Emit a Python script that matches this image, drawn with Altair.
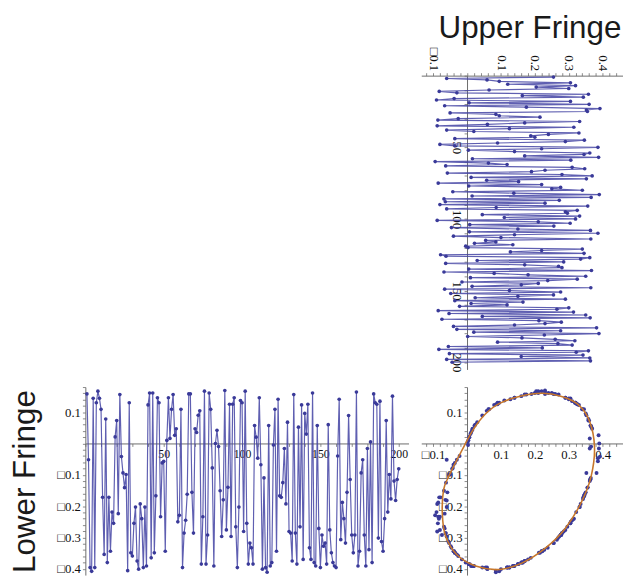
import altair as alt
import pandas as pd

# ---------------- data ----------------
index = list(range(1, 201))

lower = [
    0.158, -0.052, -0.396, -0.408, 0.144, -0.396, 0.130, 0.167, 0.144, 0.109,
    -0.172, -0.354, 0.078, -0.380, -0.172, -0.344, -0.219, -0.255, 0.021, 0.073,
    -0.224, 0.156, -0.042, -0.094, -0.141, -0.099, -0.406, 0.130, -0.349, -0.359,
    -0.255, -0.203, -0.375, -0.401, -0.193, -0.240, -0.396, -0.203, -0.391, 0.123,
    0.161, -0.365, 0.161, -0.349, -0.167, 0.146, 0.130, -0.234, -0.062, -0.057,
    -0.344, 0.010, 0.146, 0.016, 0.109, 0.156, 0.026, 0.047, -0.250, -0.229,
    0.109, -0.396, -0.286, -0.245, -0.162, 0.158, 0.158, -0.156, -0.286,
    0.047, 0.035, 0.090, 0.104, -0.385, -0.234, 0.167, -0.385, -0.292, 0.161,
    0.109, -0.078, -0.391, 0.000, 0.042, -0.010, -0.151, -0.297, -0.180, 0.169,
    -0.276, -0.140, 0.125, -0.297, 0.125, 0.146, -0.266, -0.396, -0.203, 0.137,
    0.130, -0.281, 0.167, -0.255, -0.385, -0.318, -0.333, -0.385, 0.057, 0.020,
    -0.047, 0.146, -0.068, -0.401, -0.110, -0.396, -0.411, 0.057, -0.391, -0.380,
    -0.005, 0.109, -0.344, 0.141, -0.167, -0.172, -0.125, -0.016, -0.193, 0.068,
    -0.281, -0.286, -0.375, 0.156, -0.286, -0.385, 0.052, -0.266,
    0.123, -0.370, 0.096, 0.030, 0.125, -0.333, -0.370, 0.161, -0.380, -0.391,
    0.057, -0.271, -0.396, -0.292, -0.328, -0.318, -0.385, 0.060, -0.276, -0.349,
    -0.380, -0.391, -0.396, -0.040, 0.141, -0.307, -0.188, -0.240, -0.318, -0.156,
    0.089, -0.115, -0.292, -0.349, -0.292, 0.164, -0.391, -0.344, -0.094, -0.052,
    -0.292, -0.391, -0.016, -0.339, 0.005, -0.380, 0.158, 0.130, 0.125, -0.302,
    0.135, -0.313, -0.344, -0.240, 0.073, -0.219, -0.099, -0.177, 0.151, -0.120,
    -0.182, -0.115, -0.081,
]

upper = [
    0.255, -0.060, 0.059, 0.095, 0.305, 0.120, 0.320, 0.204, 0.300, 0.065,
    -0.082, -0.030, 0.358, 0.163, 0.343, -0.038, -0.090, 0.305, 0.006, 0.360,
    -0.066, 0.175, 0.392, 0.352, 0.355, -0.050, 0.085, 0.095, 0.215, -0.026,
    -0.086, 0.332, 0.170, 0.060, -0.088, 0.315, 0.125, -0.060, 0.020, 0.330,
    0.240, 0.188, 0.200, -0.036, 0.346, 0.290, 0.090, -0.080, -0.036, 0.386,
    0.220, 0.004, 0.140, 0.362, 0.345, 0.170, 0.388, 0.016, 0.306, -0.094,
    0.063, 0.118, -0.063, 0.310, 0.347, 0.230, 0.190, -0.058, 0.280,
    0.369, 0.012, 0.352, 0.058, 0.152, -0.085, 0.220, 0.005, 0.276, 0.250,
    0.340, -0.042, 0.138, 0.390, 0.015, 0.366, -0.068, 0.272, -0.064, 0.230,
    -0.080, 0.356, 0.086, -0.060, 0.325, 0.290, 0.296, 0.045, 0.332, 0.110,
    0.320, -0.088, 0.210, 0.304, 0.008, 0.256, -0.046, 0.150, 0.364, 0.007,
    0.386, 0.140, -0.040, 0.100, 0.365, 0.055, 0.085, 0.022, 0.135, -0.004,
    0.003, 0.340, 0.220, 0.128, 0.345, -0.078, -0.062, 0.362, 0.335, 0.030,
    0.285, -0.063, 0.170, 0.270, 0.280, 0.005, 0.367, -0.068,
    0.080, 0.180, 0.350, 0.010, 0.325, 0.238, -0.015, 0.210, 0.160, 0.015,
    0.365, -0.066, 0.125, 0.276, -0.048, 0.255, 0.150, 0.024, 0.290, -0.036,
    0.165, 0.012, 0.118, -0.022, 0.300, 0.265, -0.085, 0.314, -0.053, 0.350,
    0.045, 0.363, -0.074, 0.212, 0.278, 0.230, 0.140, -0.040, 0.382, -0.030,
    0.276, 0.020, 0.389, 0.228, 0.002, 0.162, 0.260, 0.318, 0.090, 0.268,
    0.310, -0.055, 0.222, -0.083, 0.358, 0.322, -0.052, 0.342, 0.160, 0.362,
    -0.060, 0.364, -0.044,
]

# fitted ellipse, points
ellipse_x = [-0.012, 0.006, 0.028, 0.058, 0.096, 0.154, 0.221, 0.279, 0.328, 0.361,
             0.376, 0.366, 0.337, 0.289, 0.231, 0.163, 0.096, 0.028, -0.030, -0.064,
             -0.073, -0.069, -0.054, -0.032]
ellipse_y = [-0.016, 0.022, 0.060, 0.098, 0.128, 0.150, 0.160, 0.150, 0.124, 0.072,
             -0.012, -0.105, -0.188, -0.272, -0.334, -0.381, -0.402, -0.392, -0.355, -0.293,
             -0.220, -0.147, -0.105, -0.057]

assert len(lower) == 200 and len(upper) == 200

x_ticks = [round(-0.12 + 0.02 * k, 2) for k in range(29)]
y_ticks = [round(-0.40 + 0.02 * k, 2) for k in range(30)]
i_ticks = list(range(0, 210, 10))

df = pd.DataFrame({"i": index, "upper": upper, "lower": lower})
ell = pd.DataFrame({"k": list(range(len(ellipse_x))), "ex": ellipse_x, "ey": ellipse_y})

# ---------------- style ----------------
POINT = "#3a3a99"
LINE = "#4343a3"
ORANGE = "#c7772b"
AXIS = "#6b6b6b"
TEXT = "#111111"
SERIF = "Liberation Serif"
SANS = "Liberation Sans"

VAL_DOM = [-0.135, 0.46]
LOW_DOM = [-0.42, 0.18]
IDX_DOM = [0, 205]
T_DOM = [0, 206.25]

W_L, W_R, H_U, H_L = 330, 206, 300, 192
x0_off = -W_R * (0 - VAL_DOM[0]) / (VAL_DOM[1] - VAL_DOM[0])
y0_off = -H_L * (0 - LOW_DOM[0]) / (LOW_DOM[1] - LOW_DOM[0])

val_lab = ("(abs(datum.value*10 - round(datum.value*10)) > 0.001 || abs(datum.value) < 0.001) ? '' : "
           "((datum.value < 0 ? '\u25a1' : '') + format(abs(datum.value), '.1f'))")
idx_lab = "(datum.value > 0 && datum.value % 50 == 0) ? format(datum.value, 'd') : ''"


def ax(**kw):
    base = dict(title=None, grid=False, domainColor=AXIS, domainWidth=1, tickColor=AXIS,
                tickSize=3, tickWidth=0.8, labelFont=SERIF, labelFontSize=13,
                labelColor=TEXT, labelPadding=2, labelFlush=False, labelOverlap=False)
    base.update(kw)
    return alt.Axis(**base)


val_scale = alt.Scale(domain=VAL_DOM, nice=False, zero=False)
low_scale = alt.Scale(domain=LOW_DOM, nice=False, zero=False)

# ---------------- upper panel (rotated time series) ----------------
u_x = alt.X("upper:Q", scale=val_scale,
            axis=ax(orient="top", values=x_ticks, labelExpr=val_lab, labelAngle=90,
                    labelAlign="right", labelBaseline="middle"))
u_y = alt.Y("i:Q", scale=alt.Scale(domain=IDX_DOM, reverse=True, nice=False, zero=False),
            axis=ax(orient="left", offset=x0_off, values=i_ticks, labelExpr=idx_lab,
                    labelAngle=90, labelAlign="center", labelBaseline="top"))
ub = alt.Chart(df).encode(x=u_x, y=u_y, order=alt.Order("i:Q"))
upper_chart = alt.layer(
    ub.mark_line(color=LINE, strokeWidth=1.2, opacity=0.85),
    ub.mark_circle(color=POINT, size=14, opacity=1),
).properties(
    width=W_R, height=H_U,
    title=alt.TitleParams(text="Upper Fringe", font=SANS, fontSize=32, fontWeight="normal",
                          color="#1a1a1a", anchor="middle", dx=8, offset=2),
)

# ---------------- lower-left panel (time series) ----------------
l_x = alt.X("i:Q", scale=alt.Scale(domain=T_DOM, nice=False, zero=False),
            axis=ax(orient="bottom", offset=y0_off, values=i_ticks, labelExpr=idx_lab,
                    labelFontSize=12))
l_y = alt.Y("lower:Q", scale=low_scale,
            axis=ax(orient="left", values=y_ticks, labelExpr=val_lab, title="Lower Fringe",
                    titleFont=SANS, titleFontSize=32, titleFontWeight="normal",
                    titleColor="#1a1a1a", titlePadding=16))
lb = alt.Chart(df).encode(x=l_x, y=l_y)
lower_left = alt.layer(
    lb.mark_line(color=LINE, strokeWidth=1.2, opacity=0.85),
    lb.mark_circle(color=POINT, size=14, opacity=1),
).properties(width=W_L, height=H_L)


# ---------------- lower-right panel (Lissajous + ellipse) ----------------
def r_x(f):
    return alt.X(f, scale=val_scale,
                 axis=ax(orient="bottom", offset=y0_off, values=x_ticks, labelExpr=val_lab))


def r_y(f):
    return alt.Y(f, scale=low_scale,
                 axis=ax(orient="left", offset=x0_off, values=y_ticks, labelExpr=val_lab))


pts = alt.Chart(df).mark_circle(color=POINT, size=16, opacity=1).encode(
    x=r_x("upper:Q"), y=r_y("lower:Q"))
curve = alt.Chart(ell).mark_line(color=ORANGE, strokeWidth=1.6, interpolate="cardinal-closed").encode(
    x=r_x("ex:Q"), y=r_y("ey:Q"), order=alt.Order("k:Q"))
lower_right = alt.layer(pts, curve).properties(width=W_R, height=H_L)

# ---------------- empty top-left cell ----------------
spacer = alt.Chart(pd.DataFrame({"s": [0]})).mark_point(opacity=0).encode(
    x=alt.X("s:Q", axis=None), y=alt.Y("s:Q", axis=None)
).properties(width=10, height=10)

chart = alt.concat(
    spacer, upper_chart, lower_left, lower_right,
    columns=2, spacing={"row": 9, "column": 11},
).properties(
    padding={"left": 0, "top": -2, "right": 0, "bottom": 0}
).configure_view(stroke=None)

chart.save("out.html", embed_options={"renderer": "svg", "actions": False})
